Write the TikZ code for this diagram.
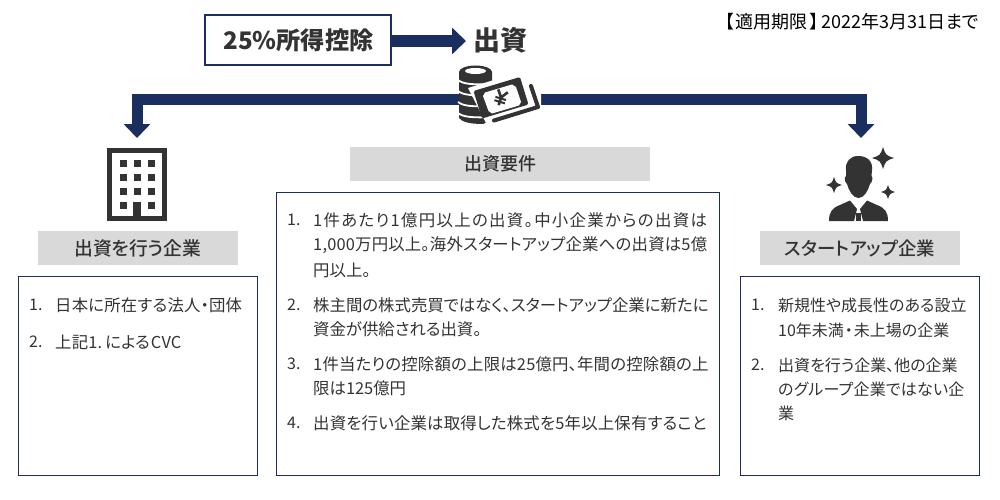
\documentclass[tikz,border=0pt]{standalone}
\usepackage{fontspec}
\setmainfont{Noto Sans CJK JP}[RawFeature=+palt]
\newfontfamily\wideA{Noto Sans CJK JP}[RawFeature=+palt,LetterSpace=8.2]
\newfontfamily\wideB{Noto Sans CJK JP}[RawFeature=+palt,LetterSpace=1.2]
\newfontfamily\medium{Noto Sans CJK JP Medium}[RawFeature=+palt]
\usetikzlibrary{arrows.meta}
\definecolor{navy}{HTML}{1A2F5F}
\definecolor{ink}{HTML}{333333}
\definecolor{band}{HTML}{D9D9D9}
\tikzset{
  frameB/.style={draw=navy,line width=1pt,fill=white},
  band/.style={fill=band},
  bandtxt/.style={text=ink,inner sep=0pt,font=\fontsize{18}{18}\selectfont\medium},
  body/.style={text=ink,inner sep=0pt,anchor=west,font=\fontsize{16}{16}\selectfont},
  bodyC/.style={text=ink,inner sep=0pt,anchor=west,font=\fontsize{16.4}{16.4}\selectfont},
  conn/.style={draw=navy,line width=11pt,-{Triangle[width=26pt,length=14pt]}},
  ic/.style={draw=none,inner sep=0pt},
  dk/.style={fill=ink,draw=none},
}
\newcommand{\spark}[3]{\fill[dk] (#1-#3,#2) .. controls (#1-.25*#3,#2-.25*#3) .. (#1,#2-#3) .. controls (#1+.25*#3,#2-.25*#3) .. (#1+#3,#2) .. controls (#1+.25*#3,#2+.25*#3) .. (#1,#2+#3) .. controls (#1-.25*#3,#2+.25*#3) .. cycle;}
\begin{document}
\begin{tikzpicture}[x=1pt,y=-1pt]
\useasboundingbox (0,0) rectangle (1000,500);
\fill[white] (0,0) rectangle (1000,500);
% frames
\draw[frameB] (18,276.5) rectangle (257.5,475.5);
\draw[frameB] (276.5,192.5) rectangle (719.5,475.5);
\draw[frameB] (740.5,276.5) rectangle (979.5,475.5);
% top
\node[draw=navy,line width=2pt,minimum width=186pt,minimum height=50pt,inner sep=0pt,text=ink,font=\fontsize{24.2}{25}\selectfont\bfseries] (credit) at (298,40) {\hspace{1pt}25\%所得控除};
\node[text=ink,inner sep=0pt,font=\fontsize{27}{27}\selectfont\bfseries] (invest) at (500,40.5) {出資};
\node[text=black,inner sep=0pt,anchor=east,font=\fontsize{18}{18}\selectfont] (limit) at (979,22) {【\hspace{2pt}適用期限\hspace{2pt}】\hspace{3pt}2022年3月31日まで};
\coordinate (investIn) at (466,41);
\draw[conn,line width=12pt] (credit.east |- investIn) -- (investIn);
% icon anchors
\node[ic,minimum width=82pt,minimum height=59pt] (money) at (500,95.5) {};
\node[ic,minimum width=60pt,minimum height=73pt] (building) at (137,184.5) {};
\node[ic,minimum width=60pt,minimum height=73pt] (person) at (861,184.5) {};
\coordinate (bl) at (137,138);
\coordinate (br) at (861,138);
\draw[conn] (money.west |- 0,99.5) -| (bl);
\draw[conn] (money.east |- 0,99.5) -| (br);
% money icon
\fill[white] (459,62) rectangle (541,128);
\fill[dk] (459,72) -- (459,118) .. controls (462,122) and (470,124) .. (483,124) -- (492,120) -- (492,72) -- cycle;
\fill[dk] (475.5,72) ellipse (16.5pt and 6.5pt);
\fill[white] (475.5,71) ellipse (10.5pt and 3pt);
\foreach \yy in {80,91,102,113}
  \draw[white,line width=1.8pt] (458,\yy) .. controls (463,\yy+4) and (472,\yy+5) .. (493,\yy+4);
\fill[white] (468,88) -- (523,71) -- (541,95) -- (541,125) -- (488,127) -- cycle;
\draw[ink,line width=4pt,line cap=round,line join=round] (531,86) -- (538,107) -- (494,120.5);
\fill[dk,rounded corners=1.5pt] (473.5,91) -- (520,77) -- (528.5,104.5) -- (482,118.5) -- cycle;
\fill[white] (485,92.5) -- (512,84.5) -- (516,87) -- (521,102) -- (519,105.5) -- (492,113.5) -- (488.5,111) -- (483,96) -- cycle;
\begin{scope}[shift={(501,97.5)},rotate=-17]
  \draw[ink,line width=2.6pt] (-5,-7) -- (0,0) -- (5,-7) (0,0) -- (0,8);
  \draw[ink,line width=2pt] (-5.5,1) -- (5.5,1) (-5.5,4.5) -- (5.5,4.5);
\end{scope}
% building icon
\draw[ink,line width=5pt] (109.5,150.5) rectangle (164.5,218.5);
\foreach \cx in {123,137,151}
  \foreach \cy in {163,177,191}
    \fill[dk] (\cx-3.5,\cy-3.5) rectangle (\cx+3.5,\cy+3.5);
\foreach \cx in {123,151}
  \fill[dk] (\cx-3.5,201.5) rectangle (\cx+3.5,208.5);
\fill[dk] (133,201.5) rectangle (140.5,219);
% person icon
\fill[dk] (846,170) .. controls (845,162) and (850,156) .. (858,156) .. controls (867,156) and (873,161) .. (872,170) -- (871.5,176) .. controls (873,177) and (872.5,182) .. (870,184) .. controls (868,191) and (864,198) .. (858.5,198) .. controls (853,198) and (849,191) .. (847,184) .. controls (844.5,182) and (844,177) .. (846,176) -- cycle;
\fill[dk] (829,221) .. controls (829,212) and (832,208) .. (840,205) -- (850,200.5) -- (857,209) -- (854,221) -- cycle;
\fill[dk] (888,221) .. controls (888,212) and (885,208) .. (877,205) -- (867,200.5) -- (860,209) -- (863,221) -- cycle;
\fill[dk] (855.8,213) rectangle (861.2,221);
\spark{883}{158}{11}
\spark{834}{185}{8}
\spark{888}{192}{7}
% grey bands
\node[band,minimum width=200pt,minimum height=34pt,inner sep=0pt] (bandL) at (138,248) {};
\node[band,minimum width=300pt,minimum height=34pt,inner sep=0pt] (bandC) at (500,164) {};
\node[band,minimum width=200pt,minimum height=34pt,inner sep=0pt] (bandR) at (860,248) {};
\node[bandtxt,font=\fontsize{18.8}{19}\selectfont\medium] (tL) at (bandL) {出資を行う企業};
\node[bandtxt] (tC) at (bandC) {出資要件};
\node[bandtxt,font=\fontsize{18.4}{19}\selectfont\medium] (tR) at (bandR) {スタートアップ企業};
% left
\node[body] (l1n) at (29,305) {1.};
\node[bodyC] (l1) at (55,305) {\wideB 日本に所在する法人・団体};
\node[body] (l2n) at (29,342) {2.};
\node[bodyC] (l2) at (55,342) {\wideB 上記1.\hspace{3pt}による\hspace{1pt}CVC};
% centre
\node[body] (c1n) at (287,220) {1.};
\node[bodyC] (c1a) at (313,220) {\wideA 1件あたり1億円以上の出資。中小企業からの出資は};
\node[bodyC] (c1b) at (313,245) {\wideB 1,000万円以上。海外スタートアップ企業への出資は5億};
\node[bodyC] (c1c) at (313,270) {円以上。};
\node[body] (c2n) at (287,305) {2.};
\node[bodyC] (c2a) at (313,305) {株主間の株式売買ではなく、スタートアップ企業に新たに};
\node[bodyC] (c2b) at (313,329) {資金が供給される出資。};
\node[body] (c3n) at (287,364) {3.};
\node[bodyC] (c3a) at (313,364) {\wideB 1件当たりの控除額の上限は25億円、年間の控除額の上};
\node[bodyC] (c3b) at (313,388) {限は125億円};
\node[body] (c4n) at (287,423) {4.};
\node[bodyC] (c4a) at (313,423) {\wideB 出資を行い企業は取得した株式を5年以上保有すること};
% right
\node[body] (r1n) at (751,305) {1.};
\node[body] (r1a) at (778,305) {新規性や成長性のある設立};
\node[body] (r1b) at (778,330) {10年未満\hspace{1pt}・\hspace{1pt}未上場の企業};
\node[body] (r2n) at (751,365) {2.};
\node[body] (r2a) at (778,365) {出資を行う企業、他の企業};
\node[body] (r2b) at (778,389) {\wideB のグループ企業ではない企};
\node[body] (r2c) at (778,413) {業};
\end{tikzpicture}
\end{document}
